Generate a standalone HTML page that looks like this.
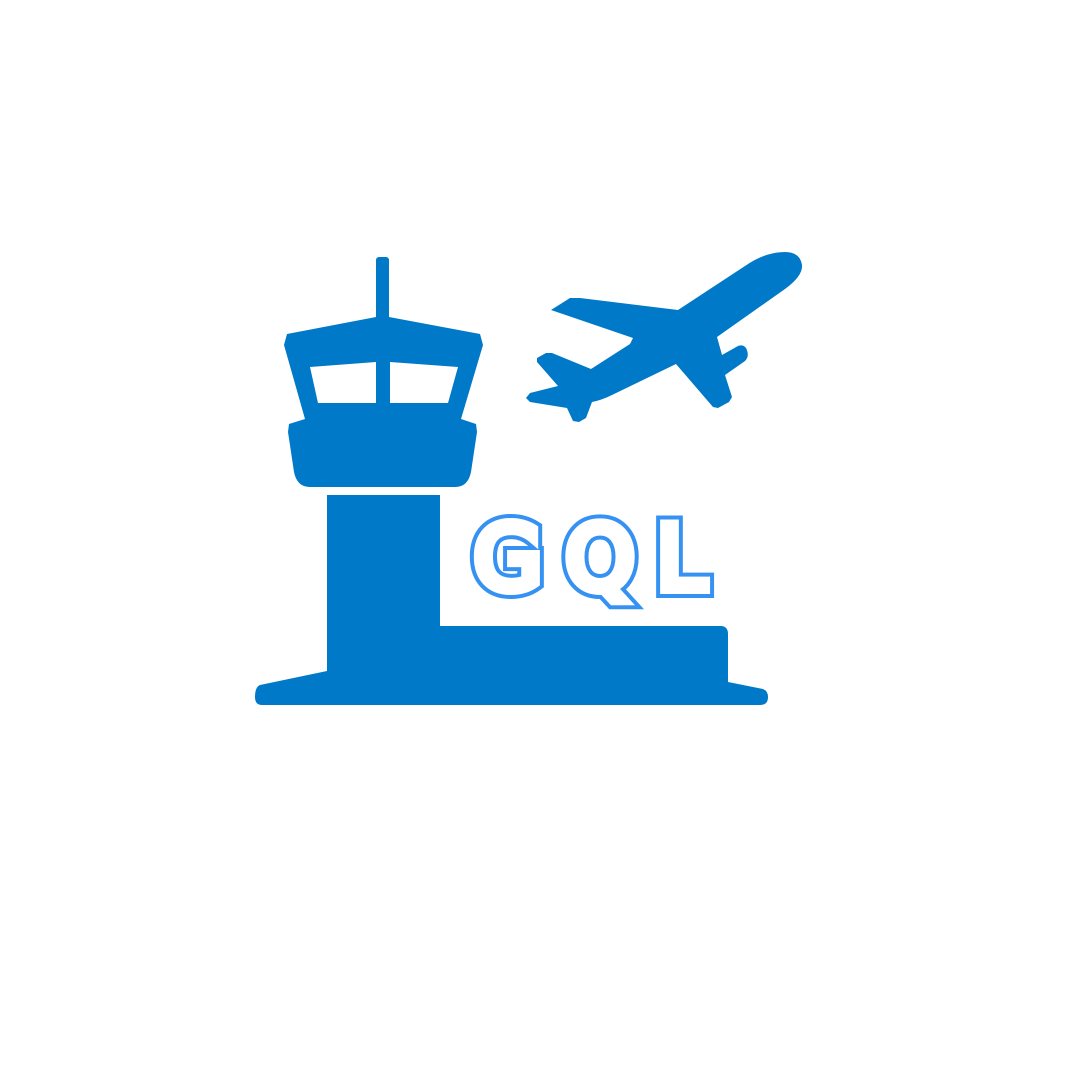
<!DOCTYPE html>
<html><head><meta charset="utf-8"><style>
html,body{margin:0;padding:0;background:#fff;}
svg{display:block;}
</style></head><body>
<svg width="1080" height="1080" viewBox="0 0 1080 1080" xmlns="http://www.w3.org/2000/svg">
<rect width="1080" height="1080" fill="#fff"/>
<g fill="#0079c9">
  <rect x="376" y="257" width="13" height="64" rx="3"/>
  <path d="M287,334 L376,317 L389,317 L480,334 L483,345 L461,419 L476,424 L477,432 L471,472 Q468,487 455,487 L310,487 Q297,487 294,472 L288,432 L289,424 L305,419 L284,345 Z"/>
  <path fill="#fff" d="M310,367 L376,362 L376,403 L318,403 Z"/>
  <path fill="#fff" d="M390,362 L458,367 L448,403 L390,403 Z"/>
  <path d="M327,495 L440,495 L440,626 L722,626 Q728,627 728,634 L728,682 L763,689 Q768,691 768,697 Q768,705 760,705 L262,705 Q255,705 255,697 Q255,687 260,685 L327,671 Z"/>
</g>
<path fill="#0079c9" d="M802,265 Q800,252 785,252 Q765,252 745,266 L678,310 L580,298 L570,298 L551,310 L633,338 L630,344 L591,369 L552,353 L546,353 L537,358 L537,362 L558,386 L530,393 L526,398 L530,402 L567,408 L573,421 L579,422 L586,418 L592,402 Q602,400 612,395 L676,364 L713,407 L718,408 L729,402 L732,397 L725,375 L745,361 Q750,356 746,348 Q743,344 738,346 L722,355 L717,337 L785,289 Q803,276 802,265 Z"/>
<g font-family="DejaVu Sans, Liberation Sans, sans-serif" font-weight="normal" font-size="88" text-anchor="middle">
  <g fill="#3592f2" stroke="#3592f2" stroke-width="18" stroke-linejoin="miter">
    <text x="508" y="589">G</text>
    <text x="600" y="589">Q</text>
    <text x="681" y="589">L</text>
  </g>
  <g fill="#fff" stroke="#fff" stroke-width="10" stroke-linejoin="miter">
    <text x="508" y="589">G</text>
    <text x="600" y="589">Q</text>
    <text x="681" y="589">L</text>
  </g>
</g>
</svg>
</body></html>
